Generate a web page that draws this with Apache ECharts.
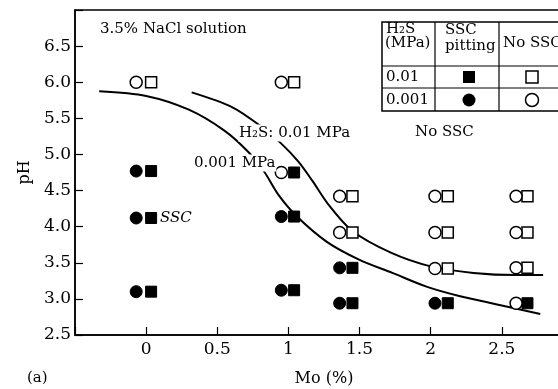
<!DOCTYPE html>
<html><head><meta charset="utf-8">
<script src="https://cdn.jsdelivr.net/npm/echarts@6/dist/echarts.min.js"></script>
<style>html,body{margin:0;padding:0;background:#fff}#c{width:558px;height:389px}</style>
</head><body><div id="c"></div>
<script>
// ---- data (Mo %, pH) ----
const xTickLabels = ['0','0.5','1','1.5','2','2.5'];
const yTickLabels = ['2.5','3.0','3.5','4.0','4.5','5.0','5.5','6.0','6.5'];
// H2S 0.01 MPa (squares)
const sq01_ssc = [[0.035,4.77],[0.035,4.12],[0.035,3.10],[1.04,4.75],[1.04,4.14],[1.04,3.12],[1.45,3.43],[1.45,2.94],[2.12,2.94],[2.68,2.94]];
const sq01_noSsc = [[0.035,6.0],[1.04,6.0],[1.45,4.42],[1.45,3.92],[2.12,4.42],[2.12,3.92],[2.12,3.42],[2.68,4.42],[2.68,3.92],[2.68,3.43]];
// H2S 0.001 MPa (circles)
const ci001_ssc = [[-0.07,4.77],[-0.07,4.12],[-0.07,3.10],[0.95,4.14],[0.95,3.12],[1.36,3.43],[1.36,2.94],[2.03,2.94]];
const ci001_noSsc = [[-0.07,6.0],[0.95,6.0],[0.95,4.75],[1.36,4.42],[1.36,3.92],[2.03,4.42],[2.03,3.92],[2.03,3.42],[2.6,4.42],[2.6,3.92],[2.6,3.43],[2.6,2.94]];
// boundary curves
const curve01 = [[0.32,5.86],[0.6,5.66],[0.8,5.4],[0.95,5.15],[1.07,4.9],[1.17,4.63],[1.28,4.31],[1.45,3.94],[1.72,3.64],[2.0,3.45],[2.3,3.36],[2.6,3.33],[2.79,3.33]];
const curve001 = [[-0.33,5.875],[0.0,5.81],[0.3,5.62],[0.55,5.33],[0.72,5.03],[0.83,4.76],[0.93,4.44],[1.06,4.14],[1.27,3.79],[1.5,3.54],[1.73,3.36],[1.97,3.17],[2.2,3.04],[2.45,2.93],[2.77,2.79]];

const FONT = 'DejaVu Serif';
const chart = echarts.init(document.getElementById('c'));
const txt = (x, y, text, size, extra) => ({
  type: 'text', x: x, y: y, z: 50,
  style: Object.assign({text: text, font: (extra && extra.italic ? 'italic ' : '') + size + 'px "' + FONT + '"', fill: '#000', align: 'left', verticalAlign: 'middle'}, extra && extra.style || {})
});

chart.setOption({
  animation: false,
  backgroundColor: '#fff',
  grid: {left: 75, width: 498, top: 10, bottom: 54, outerBoundsMode: 'none', containLabel: false, show: true, borderColor: '#000', borderWidth: 1.5, backgroundColor: 'transparent'},
  xAxis: {
    type: 'value', min: -0.5, max: 3.0, interval: 0.5,
    name: 'Mo (%)', nameLocation: 'middle', nameGap: 36,
    nameTextStyle: {fontFamily: FONT, fontSize: 16, color: '#000'},
    axisLine: {onZero: false, lineStyle: {color: '#000', width: 1.5}},
    axisTick: {inside: true, length: 8, lineStyle: {color: '#000', width: 1.2}},
    axisLabel: {margin: 6, fontFamily: FONT, fontSize: 17, color: '#000',
      formatter: v => { const i = Math.round(v / 0.5); return (i >= 0 && i < xTickLabels.length) ? xTickLabels[i] : ''; }},
    splitLine: {show: false}
  },
  yAxis: {
    type: 'value', min: 2.5, max: 7.0, interval: 0.5,
    name: 'pH', nameLocation: 'middle', nameGap: 38, nameRotate: 90,
    nameTextStyle: {fontFamily: FONT, fontSize: 16, color: '#000'},
    axisLine: {onZero: false, lineStyle: {color: '#000', width: 1.5}},
    axisTick: {inside: true, length: 8, lineStyle: {color: '#000', width: 1.2}},
    axisLabel: {margin: 4, fontFamily: FONT, fontSize: 17, color: '#000',
      formatter: v => { const i = Math.round((v - 2.5) / 0.5); return (i >= 0 && i < yTickLabels.length) ? yTickLabels[i] : ''; }},
    splitLine: {show: false}
  },
  series: [
    {type: 'line', data: curve01, smooth: 0.3, showSymbol: false, lineStyle: {color: '#000', width: 2}, z: 2, silent: true},
    {type: 'line', data: curve001, smooth: 0.3, showSymbol: false, lineStyle: {color: '#000', width: 2}, z: 2, silent: true},
    {type: 'scatter', data: sq01_noSsc, symbol: 'rect', z: 5, symbolSize: 11, itemStyle: {color: '#fff', borderColor: '#000', borderWidth: 1.5, opacity: 1}},
    {type: 'scatter', data: sq01_ssc, symbol: 'rect', z: 5, symbolSize: 11, itemStyle: {color: '#000', borderColor: '#000', borderWidth: 1, opacity: 1}},
    {type: 'scatter', data: ci001_noSsc, symbol: 'circle', z: 5, symbolSize: 12, itemStyle: {color: '#fff', borderColor: '#000', borderWidth: 1.5, opacity: 1}},
    {type: 'scatter', data: ci001_ssc, symbol: 'circle', z: 5, symbolSize: 12, itemStyle: {color: '#000', borderColor: '#000', borderWidth: 1, opacity: 1}}
  ],
  graphic: [
    txt(100, 29, '3.5% NaCl solution', 15),
    txt(238, 133, 'H₂S: 0.01 MPa', 15, {style: {backgroundColor: '#fff', padding: [1, 1]}}),
    txt(193, 163, '0.001 MPa', 15, {style: {backgroundColor: '#fff', padding: [1, 1]}}),
    txt(415, 132, 'No SSC', 15),
    txt(160, 218, 'SSC', 15, {italic: true}),
    txt(27, 378, '(a)', 15),
    // table
    {type: 'rect', z: 40, shape: {x: 382, y: 22, width: 185, height: 89}, style: {fill: '#fff', stroke: '#000', lineWidth: 1.5}},
    {type: 'line', z: 41, shape: {x1: 382, y1: 66, x2: 567, y2: 66}, style: {stroke: '#000', lineWidth: 1.2}},
    {type: 'line', z: 41, shape: {x1: 382, y1: 88, x2: 567, y2: 88}, style: {stroke: '#000', lineWidth: 1}},
    {type: 'line', z: 41, shape: {x1: 435, y1: 22, x2: 435, y2: 111}, style: {stroke: '#000', lineWidth: 1.2}},
    {type: 'line', z: 41, shape: {x1: 499, y1: 22, x2: 499, y2: 111}, style: {stroke: '#000', lineWidth: 1.2}},
    txt(386, 29, 'H₂S', 15),
    txt(385, 43, '(MPa)', 15),
    txt(445, 30, 'SSC', 15),
    txt(445, 46, 'pitting', 15),
    txt(503, 43, 'No SSC', 15),
    txt(386, 77, '0.01', 15),
    txt(386, 100, '0.001', 15),
    {type: 'rect', z: 45, shape: {x: 463, y: 71, width: 12, height: 12}, style: {fill: '#000'}},
    {type: 'rect', z: 45, shape: {x: 526, y: 71, width: 12, height: 12}, style: {fill: '#fff', stroke: '#000', lineWidth: 1.5}},
    {type: 'circle', z: 45, shape: {cx: 469, cy: 100, r: 6.5}, style: {fill: '#000'}},
    {type: 'circle', z: 45, shape: {cx: 532, cy: 100, r: 6.5}, style: {fill: '#fff', stroke: '#000', lineWidth: 1.5}}
  ]
});
</script></body></html>
